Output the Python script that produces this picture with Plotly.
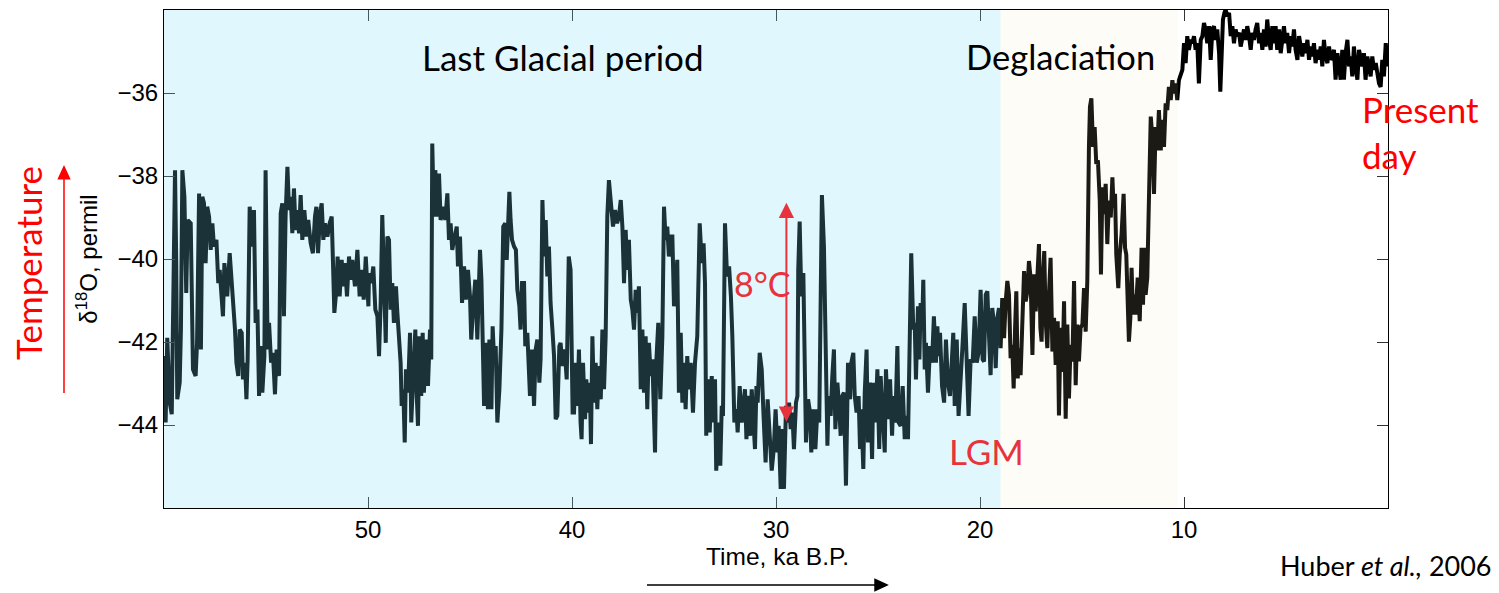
import plotly.graph_objects as go

# ---------------- data (ages in ka B.P., d18O in permil) ----------------
age_60_50 = [
    60.00, 59.92, 59.84, 59.72, 59.62, 59.56, 59.46, 59.40, 59.35, 59.23,
    59.17, 59.10, 59.00, 58.91, 58.84, 58.69, 58.64, 58.58, 58.45, 58.38,
    58.28, 58.19, 58.12, 58.04, 57.96, 57.88, 57.79, 57.71, 57.63, 57.55,
    57.43, 57.34, 57.27, 57.17, 57.11, 57.04, 56.90, 56.78, 56.68, 56.62,
    56.52, 56.45, 56.36, 56.29, 56.19, 56.13, 56.03, 55.96, 55.90, 55.80,
    55.70, 55.59, 55.51, 55.42, 55.34, 55.26, 55.18, 55.08, 55.02, 54.92,
    54.85, 54.75, 54.66, 54.56, 54.48, 54.36, 54.28, 54.20, 54.12, 54.04,
    53.95, 53.87, 53.79, 53.71, 53.63, 53.55, 53.46, 53.38, 53.30, 53.22,
    53.12, 53.02, 52.93, 52.81, 52.70, 52.60, 52.53, 52.45, 52.35, 52.27,
    52.19, 52.11, 51.99, 51.88, 51.78, 51.72, 51.65, 51.55, 51.49, 51.39,
    51.29, 51.21, 51.13, 51.03, 50.93, 50.85, 50.77, 50.64, 50.52, 50.41,
    50.31, 50.21, 50.11, 49.98]
d18o_60_50 = [
    -42.34, -43.94, -41.90, -43.46, -43.74, -42.02, -37.86, -40.10, -43.38, -42.98,
    -41.70, -37.86, -38.50, -40.82, -39.06, -39.14, -41.22, -42.66, -42.82, -42.02,
    -38.42, -42.18, -38.50, -38.66, -40.10, -38.74, -38.98, -39.78, -39.14, -39.70,
    -39.54, -40.58, -40.26, -41.06, -41.38, -40.10, -40.90, -39.86, -40.50, -40.90,
    -41.70, -42.50, -42.82, -41.70, -41.78, -42.90, -42.50, -43.38, -42.42, -38.74,
    -39.70, -38.82, -41.54, -41.22, -43.30, -42.10, -43.22, -42.34, -37.86, -42.18,
    -41.54, -42.50, -42.26, -43.26, -42.18, -42.82, -38.90, -38.66, -41.38, -38.98,
    -37.78, -38.82, -38.50, -39.38, -38.30, -39.30, -38.82, -39.38, -38.46, -39.54,
    -38.82, -39.46, -39.06, -39.62, -39.86, -38.98, -38.74, -39.86, -38.90, -38.66,
    -39.54, -39.14, -39.46, -39.14, -38.98, -40.02, -41.30, -40.74, -39.94, -40.90,
    -40.02, -40.66, -40.10, -40.90, -39.94, -40.50, -40.02, -40.66, -39.78, -40.90,
    -40.26, -40.98, -39.94, -41.14]

age_50_40 = [
    49.95, 49.84, 49.74, 49.64, 49.54, 49.46, 49.38, 49.30, 49.22, 49.13,
    49.05, 48.97, 48.89, 48.81, 48.73, 48.63, 48.56, 48.48, 48.40, 48.35,
    48.27, 48.20, 48.14, 48.04, 47.94, 47.88, 47.78, 47.68, 47.61, 47.55,
    47.48, 47.39, 47.32, 47.26, 47.16, 47.06, 46.96, 46.90, 46.85, 46.77,
    46.70, 46.60, 46.52, 46.44, 46.31, 46.21, 46.11, 46.03, 45.95, 45.87,
    45.75, 45.65, 45.59, 45.49, 45.39, 45.29, 45.20, 45.10, 45.00, 44.94,
    44.84, 44.74, 44.64, 44.56, 44.51, 44.44, 44.38, 44.31, 44.22, 44.12,
    44.05, 43.95, 43.89, 43.82, 43.74, 43.66, 43.56, 43.46, 43.37, 43.27,
    43.20, 43.14, 43.07, 43.01, 42.94, 42.84, 42.75, 42.68, 42.58, 42.52,
    42.45, 42.35, 42.29, 42.19, 42.12, 42.06, 41.96, 41.86, 41.78, 41.70,
    41.60, 41.54, 41.45, 41.37, 41.29, 41.21, 41.13, 41.05, 40.96, 40.88,
    40.80, 40.72, 40.62, 40.56, 40.46, 40.36, 40.26, 40.16, 40.07, 39.97]
d18o_50_40 = [
    -40.34, -40.58, -40.18, -41.22, -41.38, -42.34, -41.06, -38.94, -40.34, -42.02,
    -39.46, -39.54, -41.22, -40.58, -41.54, -40.66, -41.30, -42.10, -42.50, -43.54,
    -43.14, -44.42, -42.66, -43.22, -41.78, -43.94, -42.50, -41.70, -43.30, -44.02,
    -41.86, -43.30, -41.78, -43.22, -41.94, -43.06, -41.70, -42.42, -37.22, -38.98,
    -37.86, -38.98, -37.94, -39.06, -38.74, -39.06, -38.42, -39.54, -39.14, -39.78,
    -39.46, -39.22, -40.18, -39.46, -41.06, -40.18, -40.98, -40.26, -40.90, -41.94,
    -41.14, -40.50, -41.94, -40.82, -39.78, -40.50, -41.54, -43.54, -42.02, -43.62,
    -41.94, -43.62, -41.62, -42.42, -42.10, -43.94, -43.14, -41.70, -39.22, -39.14,
    -40.02, -39.06, -38.38, -39.06, -39.54, -39.70, -39.78, -40.74, -41.14, -41.70,
    -40.58, -40.58, -42.10, -41.78, -42.66, -43.30, -42.18, -43.54, -42.18, -41.94,
    -42.98, -42.42, -38.58, -39.94, -39.06, -40.42, -39.70, -41.06, -41.70, -42.34,
    -43.86, -43.78, -42.10, -42.02, -42.58, -42.18, -42.90, -39.94, -40.26, -43.70]

age_40_30 = [
    39.90, 39.82, 39.74, 39.66, 39.58, 39.53, 39.46, 39.36, 39.30, 39.20,
    39.13, 39.07, 39.00, 38.92, 38.84, 38.76, 38.68, 38.59, 38.51, 38.43,
    38.35, 38.27, 38.19, 38.09, 37.99, 37.89, 37.79, 37.70, 37.61, 37.53,
    37.45, 37.37, 37.29, 37.21, 37.12, 37.04, 36.96, 36.88, 36.80, 36.72,
    36.63, 36.55, 36.47, 36.39, 36.31, 36.23, 36.14, 36.06, 35.98, 35.93,
    35.87, 35.77, 35.67, 35.57, 35.49, 35.41, 35.33, 35.25, 35.16, 35.08,
    35.00, 34.92, 34.84, 34.76, 34.67, 34.59, 34.51, 34.43, 34.35, 34.27,
    34.18, 34.07, 33.97, 33.86, 33.74, 33.64, 33.55, 33.48, 33.42, 33.32,
    33.25, 33.15, 33.06, 32.99, 32.93, 32.83, 32.73, 32.66, 32.60, 32.50,
    32.40, 32.30, 32.21, 32.14, 32.04, 31.94, 31.88, 31.78, 31.68, 31.59,
    31.52, 31.45, 31.36, 31.27, 31.19, 31.13, 31.03, 30.96, 30.90, 30.80,
    30.70, 30.61, 30.51, 30.41, 30.31, 30.21, 30.11, 30.02, 29.92]
d18o_40_30 = [
    -43.70, -42.50, -43.54, -42.18, -43.94, -44.34, -42.50, -43.86, -42.90, -43.70,
    -42.98, -44.46, -41.86, -43.46, -42.50, -43.62, -42.58, -43.38, -41.70, -43.14,
    -41.86, -38.98, -38.10, -38.74, -39.22, -38.82, -39.14, -38.98, -38.58, -39.22,
    -40.58, -39.30, -40.26, -39.54, -40.98, -41.22, -41.70, -40.74, -41.30, -40.66,
    -43.14, -41.70, -43.22, -41.86, -43.62, -42.02, -42.82, -42.42, -43.70, -44.66,
    -42.50, -41.54, -43.38, -41.86, -38.74, -39.54, -39.22, -39.94, -39.46, -39.46,
    -41.14, -40.74, -40.02, -43.22, -41.78, -43.46, -42.50, -43.62, -42.34, -43.14,
    -42.50, -43.70, -42.50, -41.86, -39.14, -40.10, -39.62, -40.58, -44.26, -42.90,
    -44.18, -42.82, -43.94, -42.90, -45.10, -43.94, -44.98, -43.54, -43.78, -39.14,
    -40.42, -40.18, -40.90, -41.86, -43.94, -43.62, -44.18, -43.06, -43.94, -43.46,
    -43.14, -44.34, -43.30, -44.26, -43.14, -43.70, -44.58, -43.06, -43.46, -42.26,
    -42.66, -43.78, -44.90, -43.38, -44.10, -45.10, -44.58, -43.62, -44.66]

age_30_20 = [
    29.87, 29.77, 29.67, 29.61, 29.51, 29.44, 29.36, 29.28, 29.20, 29.12,
    29.02, 28.95, 28.91, 28.84, 28.76, 28.66, 28.60, 28.53, 28.43, 28.33,
    28.27, 28.17, 28.07, 27.97, 27.88, 27.81, 27.75, 27.65, 27.57, 27.48,
    27.42, 27.32, 27.24, 27.16, 27.09, 26.99, 26.91, 26.83, 26.75, 26.67,
    26.57, 26.47, 26.37, 26.31, 26.21, 26.14, 26.05, 25.95, 25.88, 25.82,
    25.72, 25.65, 25.56, 25.49, 25.39, 25.29, 25.23, 25.13, 25.03, 24.94,
    24.87, 24.77, 24.67, 24.61, 24.51, 24.41, 24.31, 24.25, 24.15, 24.05,
    23.99, 23.89, 23.79, 23.69, 23.60, 23.53, 23.46, 23.37, 23.27, 23.20,
    23.14, 23.04, 22.97, 22.91, 22.84, 22.78, 22.71, 22.65, 22.55, 22.45,
    22.35, 22.26, 22.16, 22.09, 22.03, 21.96, 21.86, 21.76, 21.67, 21.57,
    21.47, 21.37, 21.31, 21.24, 21.14, 21.05, 20.95, 20.85, 20.75, 20.65,
    20.56, 20.46, 20.36, 20.26, 20.16, 20.07, 19.97, 19.87]
d18o_30_20 = [
    -44.02, -45.54, -44.10, -45.54, -43.54, -43.94, -43.46, -44.10, -43.70, -44.58,
    -43.46, -43.30, -40.26, -39.10, -40.90, -40.34, -43.14, -44.42, -43.38, -43.70,
    -44.66, -43.62, -44.58, -43.62, -43.94, -41.46, -38.46, -39.70, -42.10, -44.50,
    -43.30, -43.78, -42.82, -42.18, -44.10, -42.98, -43.54, -44.26, -43.30, -43.22,
    -45.46, -42.50, -43.38, -42.50, -42.26, -43.30, -43.70, -43.30, -44.58, -43.62,
    -45.06, -43.22, -42.18, -44.42, -42.98, -44.82, -42.98, -43.94, -42.66, -44.58,
    -42.82, -43.78, -44.66, -42.66, -43.86, -42.90, -44.26, -43.30, -43.94, -42.10,
    -43.94, -44.02, -43.06, -44.34, -43.78, -44.34, -42.18, -39.86, -41.70, -41.54,
    -42.90, -41.14, -42.42, -41.06, -41.70, -40.50, -42.66, -42.02, -43.22, -42.10,
    -42.50, -41.38, -42.50, -41.62, -42.34, -41.78, -43.06, -43.46, -41.94, -42.98,
    -43.30, -42.34, -41.78, -43.54, -41.94, -43.78, -42.66, -42.02, -41.06, -42.82,
    -43.78, -42.42, -42.50, -41.38, -42.50, -42.26, -40.74, -42.42]

age_20_10 = [
    19.80, 19.72, 19.64, 19.56, 19.48, 19.40, 19.31, 19.23, 19.15, 19.07,
    18.99, 18.91, 18.82, 18.74, 18.66, 18.58, 18.50, 18.42, 18.35, 18.28,
    18.22, 18.15, 18.09, 18.01, 17.92, 17.84, 17.76, 17.68, 17.60, 17.52,
    17.43, 17.35, 17.27, 17.19, 17.11, 17.04, 16.98, 16.91, 16.85, 16.78,
    16.70, 16.62, 16.54, 16.45, 16.37, 16.29, 16.19, 16.13, 16.05, 15.96,
    15.88, 15.80, 15.72, 15.64, 15.56, 15.47, 15.39, 15.31, 15.23, 15.15,
    15.07, 14.98, 14.90, 14.82, 14.74, 14.66, 14.61, 14.54, 14.46, 14.38,
    14.30, 14.22, 14.13, 14.07, 14.00, 13.92, 13.84, 13.76, 13.68, 13.59,
    13.51, 13.45, 13.38, 13.32, 13.22, 13.15, 13.06, 12.96, 12.89, 12.83,
    12.76, 12.70, 12.63, 12.57, 12.50, 12.43, 12.37, 12.27, 12.17, 12.08,
    12.01, 11.94, 11.88, 11.80, 11.72, 11.63, 11.55, 11.47, 11.39, 11.31,
    11.23, 11.14, 11.06, 10.98, 10.90, 10.82, 10.74, 10.65, 10.57, 10.49,
    10.41, 10.33, 10.25]
d18o_20_10 = [
    -42.47, -40.86, -40.78, -41.83, -42.80, -41.18, -41.58, -42.63, -41.42, -41.18,
    -42.15, -40.94, -41.91, -41.02, -40.53, -40.86, -42.39, -42.07, -43.12, -41.66,
    -40.78, -42.88, -42.15, -42.80, -41.66, -40.29, -41.02, -40.78, -40.05, -40.45,
    -42.31, -40.37, -41.26, -40.21, -39.64, -41.66, -41.99, -40.37, -39.81, -41.50,
    -42.15, -40.86, -39.97, -42.23, -41.42, -42.55, -41.50, -43.77, -41.66, -42.72,
    -41.02, -43.85, -41.58, -43.36, -42.07, -42.47, -40.53, -43.04, -41.58, -42.47,
    -41.66, -41.58, -40.70, -41.75, -40.53, -37.30, -36.33, -36.13, -37.30, -36.82,
    -37.71, -37.62, -38.59, -40.37, -38.27, -38.92, -38.19, -39.64, -38.59, -39.00,
    -38.03, -38.76, -38.43, -39.89, -40.70, -39.89, -39.40, -38.43, -39.73, -39.89,
    -41.66, -41.99, -41.42, -40.21, -41.34, -40.86, -41.34, -40.45, -41.50, -39.73,
    -41.10, -39.73, -40.86, -40.45, -38.59, -36.57, -37.06, -38.43, -36.82, -37.38,
    -36.41, -37.38, -36.65, -37.30, -36.25, -36.41, -35.85, -36.17, -35.69, -36.01,
    -35.77, -36.17, -35.69]

age_10_0 = [
    10.08, 10.00, 9.92, 9.84, 9.76, 9.67, 9.59, 9.51, 9.43, 9.35,
    9.27, 9.18, 9.10, 9.02, 8.94, 8.86, 8.77, 8.69, 8.61, 8.53,
    8.45, 8.37, 8.28, 8.22, 8.15, 8.09, 8.02, 7.96, 7.88, 7.79,
    7.71, 7.63, 7.55, 7.47, 7.39, 7.30, 7.22, 7.14, 7.06, 6.98,
    6.90, 6.81, 6.73, 6.65, 6.57, 6.49, 6.41, 6.32, 6.24, 6.16,
    6.08, 6.00, 5.92, 5.83, 5.75, 5.67, 5.59, 5.51, 5.43, 5.34,
    5.26, 5.18, 5.10, 5.02, 4.94, 4.85, 4.77, 4.69, 4.61, 4.53,
    4.44, 4.36, 4.28, 4.20, 4.12, 4.04, 3.95, 3.87, 3.79, 3.71,
    3.63, 3.55, 3.46, 3.38, 3.30, 3.22, 3.14, 3.06, 2.97, 2.89,
    2.81, 2.73, 2.65, 2.57, 2.48, 2.40, 2.32, 2.24, 2.16, 2.08,
    1.99, 1.91, 1.83, 1.75, 1.67, 1.59, 1.50, 1.42, 1.34, 1.26,
    1.18, 1.10, 1.01, 0.93, 0.85, 0.77, 0.69, 0.60, 0.52, 0.44,
    0.36, 0.28, 0.20, 0.11, 0.03]
d18o_10_0 = [
    -35.44, -34.80, -35.28, -34.63, -34.96, -34.72, -34.80, -34.63, -34.96, -34.80,
    -35.77, -34.72, -34.63, -34.31, -34.47, -34.80, -34.39, -35.20, -34.47, -34.39,
    -34.72, -34.47, -35.04, -35.97, -34.63, -34.23, -34.07, -33.99, -34.15, -34.07,
    -34.63, -34.39, -34.80, -34.47, -34.63, -34.55, -34.88, -34.63, -34.47, -34.72,
    -34.39, -34.63, -34.96, -34.55, -34.72, -34.47, -34.31, -34.80, -34.55, -34.96,
    -34.47, -34.88, -34.23, -34.72, -34.96, -34.39, -34.80, -34.39, -34.96, -34.47,
    -35.04, -34.72, -34.39, -34.80, -34.55, -35.04, -34.63, -34.88, -34.47, -34.96,
    -35.20, -34.63, -34.96, -35.12, -34.80, -35.04, -34.72, -35.20, -34.88, -35.12,
    -34.80, -35.28, -34.96, -35.20, -34.88, -35.36, -34.72, -35.12, -35.28, -34.88,
    -35.20, -35.12, -34.96, -35.68, -35.04, -35.36, -35.68, -34.96, -35.68, -35.04,
    -34.72, -35.36, -35.12, -35.60, -34.88, -35.36, -35.68, -34.96, -35.20, -35.36,
    -35.04, -35.68, -35.12, -35.36, -35.60, -35.12, -35.44, -35.28, -35.52, -35.77,
    -35.85, -35.20, -35.60, -34.80, -35.36]

# period boundaries (ka B.P.)
glacial_start = 60.0
deglaciation_start = 19.0
holocene_start = 10.3

# 8 degC span marker (age, d18O range)
span_age = 29.49
span_top = -38.70
span_bottom = -43.87

x_ticks = [50, 40, 30, 20, 10]
y_ticks = [-44, -42, -40, -38, -36]

# ---------------- assemble ----------------
age_segments = [age_60_50, age_50_40, age_40_30, age_30_20, age_20_10, age_10_0]
d18o_segments = [d18o_60_50, d18o_50_40, d18o_40_30, d18o_30_20, d18o_20_10, d18o_10_0]
ages, d18o = [], []
for a, d in zip(age_segments, d18o_segments):
    assert len(a) == len(d), (len(a), len(d))
    ages += a
    d18o += d

W, H = 1499, 593
ML, MR, MT, MB = 164, 111, 10, 85
PW, PH = W - ML - MR, H - MT - MB
X_RANGE = [glacial_start, 0]
Y_RANGE = [-46, -34]

AX_FONT = "Liberation Sans, Arial, Helvetica, sans-serif"
TXT_FONT = "Lato, Carlito, Calibri, sans-serif"
RED = "#FF0000"
RED2 = "#E8333C"

fig = go.Figure()
fig.add_trace(go.Scatter(x=ages, y=d18o, mode="lines",
                         line=dict(color="black", width=4),
                         hoverinfo="skip", showlegend=False))

# translucent period shading drawn over the curve
fig.add_shape(type="rect", xref="x", yref="paper",
              x0=glacial_start, x1=deglaciation_start, y0=0, y1=1,
              fillcolor="rgba(119,225,247,0.227)", line=dict(width=0), layer="above")
fig.add_shape(type="rect", xref="x", yref="paper",
              x0=deglaciation_start, x1=holocene_start, y0=0, y1=1,
              fillcolor="rgba(237,228,186,0.115)", line=dict(width=0), layer="above")


def arrow_path(x0, y0, x1, y1, sx, sy, head_len=12, half_w=6, both=False):
    """Straight arrow from (x0,y0) to (x1,y1); sx, sy = pixels per unit."""
    import math
    dxp, dyp = (x1 - x0) * sx, (y1 - y0) * sy
    L = math.hypot(dxp, dyp)
    ux, uy = dxp / L, dyp / L
    px_, py_ = -uy, ux

    def head(tx, ty, dirx, diry):
        bx, by = tx - dirx * head_len / sx, ty - diry * head_len / sy
        p1 = (bx + px_ * half_w / sx, by + py_ * half_w / sy)
        p2 = (bx - px_ * half_w / sx, by - py_ * half_w / sy)
        return f"M{tx},{ty} L{p1[0]},{p1[1]} L{p2[0]},{p2[1]} Z", (bx, by)

    h_end, base_end = head(x1, y1, ux, uy)
    start = (x0, y0)
    path = h_end
    if both:
        h_start, base_start = head(x0, y0, -ux, -uy)
        path += " " + h_start
        start = base_start
    path += f" M{start[0]},{start[1]} L{base_end[0]},{base_end[1]}"
    return path


# paper-unit scales (pixels per paper unit)
sxp, syp = PW, PH
# data-unit scales (pixels per data unit)
sxd = PW / abs(X_RANGE[0] - X_RANGE[1])
syd = PH / (Y_RANGE[1] - Y_RANGE[0])

# temperature arrow (upwards, in left margin)
fig.add_shape(type="path", xref="paper", yref="paper",
              path=arrow_path(-0.0817, 0.231, -0.0817, 0.685, sxp, syp, 12, 5.5),
              line=dict(color=RED, width=1.5), fillcolor=RED, layer="above")
# time arrow (rightwards, under the axis title)
fig.add_shape(type="path", xref="paper", yref="paper",
              path=arrow_path(0.3946, -0.1546, 0.5907, -0.1546, sxp, syp, 12, 5.5),
              line=dict(color="black", width=1.5), fillcolor="black", layer="above")
# 8 degC double arrow
fig.add_shape(type="path", xref="x", yref="y",
              path=arrow_path(span_age, span_bottom, span_age, span_top, sxd, syd, 12, 6, both=True),
              line=dict(color=RED2, width=2), fillcolor=RED2, layer="above")

axis_common = dict(showline=True, linecolor="black", linewidth=1.2, mirror="allticks",
                   ticks="inside", ticklen=11, tickwidth=1, tickcolor="#333333",
                   showgrid=False, zeroline=False,
                   tickfont=dict(family=AX_FONT, size=24, color="black"))

fig.update_xaxes(range=X_RANGE, tickvals=x_ticks, **axis_common)
fig.update_yaxes(range=Y_RANGE, tickvals=y_ticks,
                 title=dict(text="δ<sup>18</sup>O, permil", font=dict(family=AX_FONT, size=24, color="black"),
                            standoff=12),
                 **axis_common)


def label(text, x, y, size, color, family=TXT_FONT, **kw):
    d = dict(text=text, x=x, y=y, xref="paper", yref="paper", showarrow=False,
             xanchor="center", yanchor="middle",
             font=dict(family=family, size=size, color=color))
    d.update(kw)
    return d


annotations = [
    label("Time, ka B.P.", 0.5016, -0.0975, 24.5, "black", family=AX_FONT),
    label("Last Glacial period", 0.3256, 0.906, 35, "black"),
    label("Deglaciation", 0.7324, 0.906, 34.5, "black"),
    label("Present<br>day", 0.977, 0.848, 35, RED, xanchor="left", yanchor="top", align="left"),
    label("LGM", 0.672, 0.1145, 35, RED2),
    label("8°C", 0.4886, 0.450, 34, RED2),
    label("Huber <i>et al.,</i> 2006", 0.9100, -0.1526, 27, "black",
          xanchor="left", yanchor="bottom"),
    label("Temperature", -0.1107, 0.491, 35, RED, textangle=-90),
]
fig.update_layout(
    width=W, height=H,
    margin=dict(l=ML, r=MR, t=MT, b=MB),
    paper_bgcolor="white", plot_bgcolor="white",
    annotations=annotations,
    showlegend=False,
)

fig.write_html("out.html")
